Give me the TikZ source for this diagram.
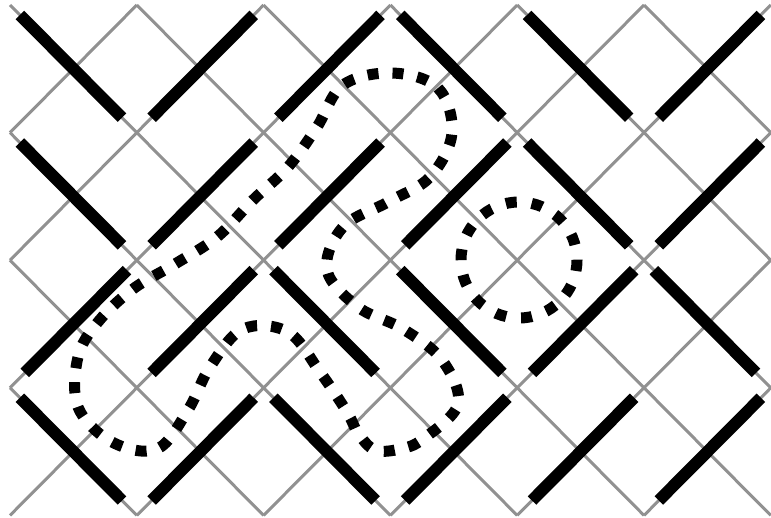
\documentclass[tikz,border=0pt]{standalone}
\usetikzlibrary{calc}
\definecolor{gridgray}{RGB}{145,145,145}
\begin{document}
\begin{tikzpicture}[x=1pt,y=-1pt,
  gridline/.style={draw=gridgray, line width=3pt},
  wall/.style={draw=black, line width=12pt},
  loopline/.style={draw=black, line width=11pt, dash pattern=on 11pt off 14pt}]
\useasboundingbox (0,0) rectangle (771,517);
\def\ux{63.4}
\def\uy{63.8}
% gray diagonal lattice
\foreach \c in {-6,-4,...,10} {
  \pgfmathsetmacro{\ia}{max(0,\c)}
  \pgfmathsetmacro{\ib}{min(12,8+\c)}
  \draw[gridline] ({10+\ux*\ia},{5+\uy*(\ia-\c)}) -- ({10+\ux*\ib},{5+\uy*(\ib-\c)});
}
\foreach \c in {2,4,...,18} {
  \pgfmathsetmacro{\ia}{max(0,\c-8)}
  \pgfmathsetmacro{\ib}{min(12,\c)}
  \draw[gridline] ({10+\ux*\ia},{5+\uy*(\c-\ia)}) -- ({10+\ux*\ib},{5+\uy*(\c-\ib)});
}
% black walls (top point / bottom point, in big-cell units)
\foreach \a/\b/\c/\d in {0/0/1/1, 2/0/1/1, 3/0/2/1, 3/0/4/1, 4/0/5/1, 6/0/5/1,
  0/1/1/2, 2/1/1/2, 3/1/2/2, 4/1/3/2, 4/1/5/2, 6/1/5/2,
  1/2/0/3, 2/2/1/3, 2/2/3/3, 3/2/4/3, 5/2/4/3, 5/2/6/3,
  0/3/1/4, 2/3/1/4, 2/3/3/4, 4/3/3/4, 5/3/4/4, 6/3/5/4} {
  \coordinate (T) at ({10+2*\ux*\a},{5+2*\uy*\b});
  \coordinate (B) at ({10+2*\ux*\c},{5+2*\uy*\d});
  \draw[wall] ($(T)!14pt!(B)$) -- ($(B)!21pt!(T)$);
}
% dotted loops
\draw[loopline] plot[smooth cycle, tension=0.6] coordinates {
  (392,73) (438,88) (452,133) (430,177) (388,202) (343,227) (327,270)
  (358,307) (403,329) (442,360) (458,404) (423,439) (400,449) (375,450)
  (358,433) (347,412) (320,372) (288,332) (243,329) (210,367) (188,410)
  (157,449) (112,442) (78,407) (78,357) (98,322) (133,289) (175,264)
  (217,237) (253,200) (288,167) (317,127) (343,85)};
\draw[loopline, dash pattern=on 11pt off 15pt] (519,260) circle[radius=58];
\end{tikzpicture}
\end{document}
